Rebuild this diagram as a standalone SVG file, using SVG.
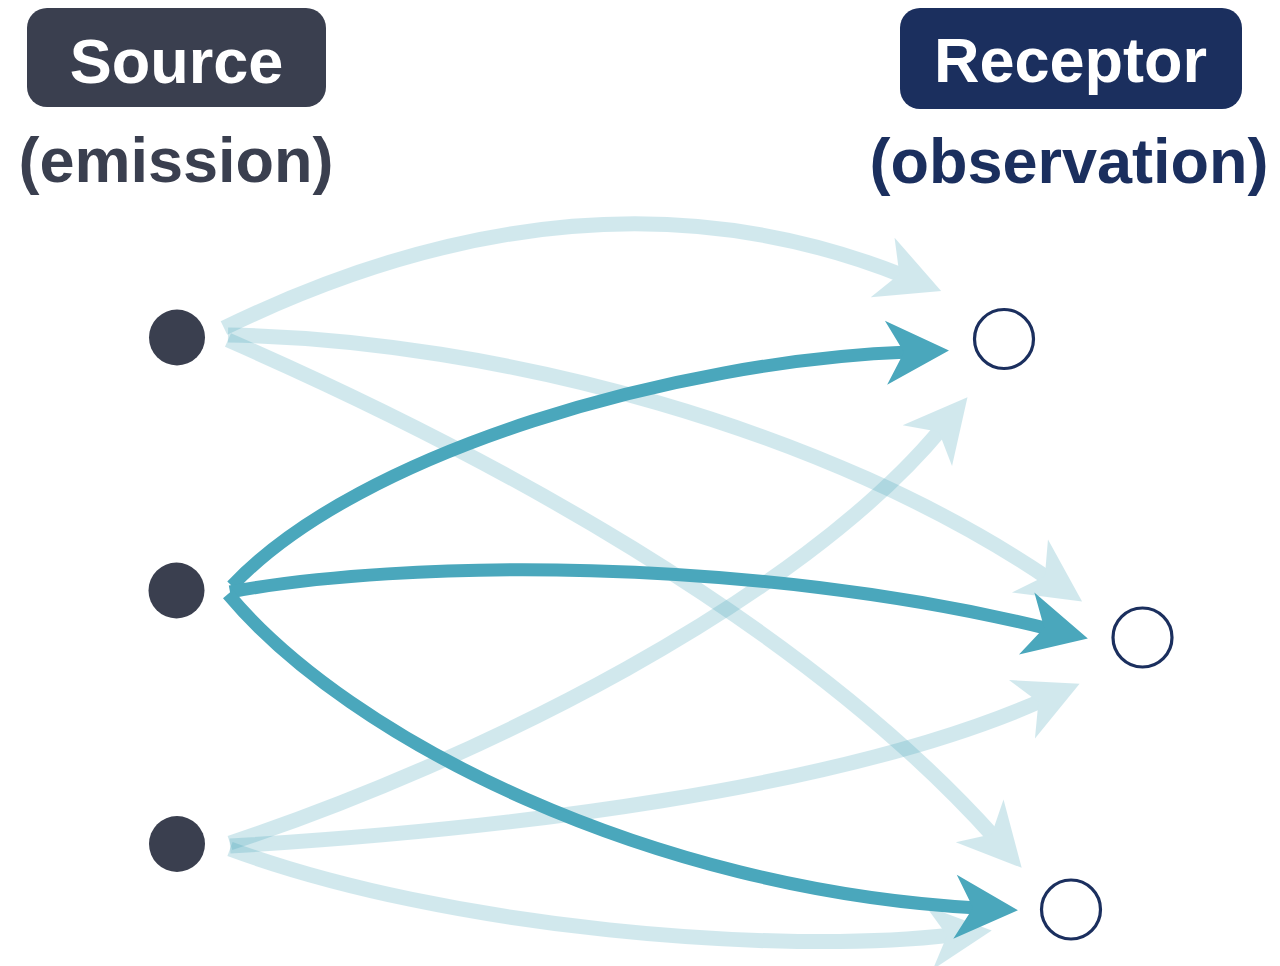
<svg xmlns="http://www.w3.org/2000/svg" width="1280" height="966" viewBox="0 0 1280 966">
  <style>
    .lbl { font-family: "Liberation Sans", Arial, Helvetica, sans-serif; font-weight: bold; font-size: 63px; text-anchor: middle; }
    .light { fill: none; stroke: #4aa7bc; stroke-width: 15; }
    .dark { fill: none; stroke: #4aa7bc; stroke-width: 13; }
    .lg { opacity: 0.25; }
    .src { fill: #3a3f4f; }
    .rcp { fill: #ffffff; stroke: #1b2f5e; stroke-width: 3.2; }
  </style>
  <defs>
    <marker id="ah" markerUnits="userSpaceOnUse" viewBox="-30 -40 80 80" markerWidth="80" markerHeight="80" refX="0" refY="0" orient="auto">
      <path d="M40,0 L-23,-32 L-5,0 L-23,32 Z" fill="#4aa7bc"/>
    </marker>
  </defs>

  <g id="connectors">
    <g class="lg"><path class="light" marker-end="url(#ah)" d="M224,328 Q590,150 904,276"/></g>
    <g class="lg"><path class="light" marker-end="url(#ah)" d="M228,335 C500,340 830,430 1049,579"/></g>
    <g class="lg"><path class="light" marker-end="url(#ah)" d="M228,340 C480,450 800,620 995,838"/></g>
    <g class="lg"><path class="light" marker-end="url(#ah)" d="M230,843 C480,760 800,600 942,428"/></g>
    <g class="lg"><path class="light" marker-end="url(#ah)" d="M230,846 C500,830 840,790 1043,700"/></g>
    <g class="lg"><path class="light" marker-end="url(#ah)" d="M230,849 C450,930 780,955 952,935"/></g>
    <path class="dark" marker-end="url(#ah)" d="M232,586 C360,450 680,360 909,352"/>
    <path class="dark" marker-end="url(#ah)" d="M230,592 C400,560 750,555 1049,629"/>
    <path class="dark" marker-end="url(#ah)" d="M228,594 C350,740 650,890 978,908"/>
  </g>

  <g id="source-label">
    <rect x="27" y="8" width="299" height="99" rx="20" fill="#3a3f4f"/>
    <text class="lbl" x="176.5" y="83" fill="#ffffff">Source</text>
    <text class="lbl" x="176" y="182" fill="#3a3f4f">(emission)</text>
  </g>
  <g id="receptor-label">
    <rect x="900" y="8" width="342" height="101" rx="20" fill="#1b2f5e"/>
    <text class="lbl" x="1070.5" y="82" fill="#ffffff">Receptor</text>
    <text class="lbl" x="1069" y="183" fill="#1b2f5e">(observation)</text>
  </g>

  <g id="source-1"><circle class="src" cx="177" cy="337.5" r="28"/></g>
  <g id="source-2"><circle class="src" cx="176.5" cy="590.5" r="28"/></g>
  <g id="source-3"><circle class="src" cx="177" cy="844" r="28"/></g>

  <g id="receptor-1"><circle class="rcp" cx="1004" cy="339" r="29.5"/></g>
  <g id="receptor-2"><circle class="rcp" cx="1142.5" cy="637.5" r="29.5"/></g>
  <g id="receptor-3"><circle class="rcp" cx="1071" cy="909.5" r="29.5"/></g>
</svg>
